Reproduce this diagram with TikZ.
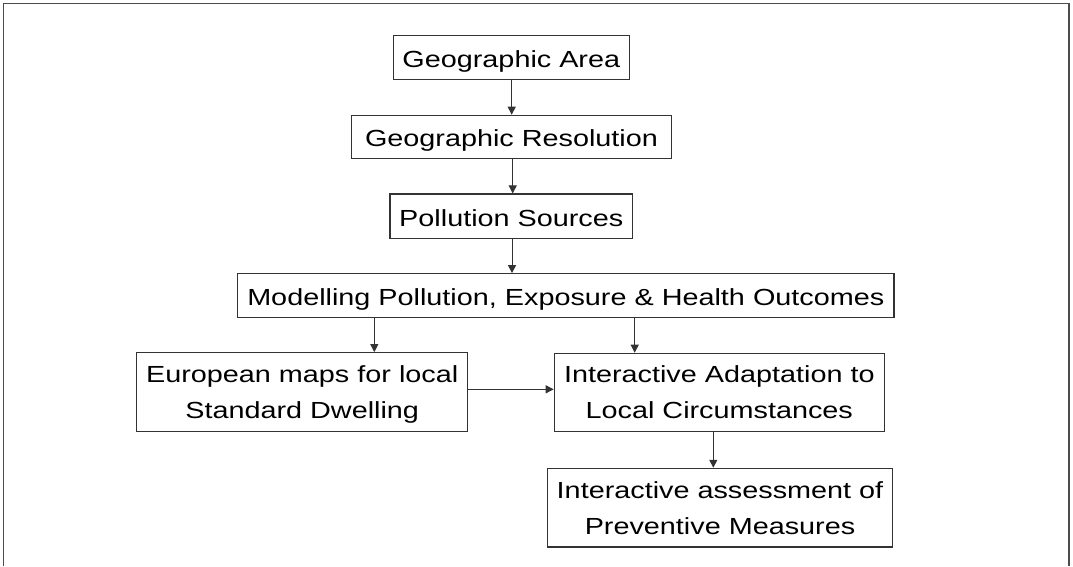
\documentclass[tikz,border=0pt]{standalone}
\usepackage{fontspec}
\setmainfont{Liberation Sans}[FakeStretch=1.236]
\usetikzlibrary{arrows.meta}
\newcommand\myline[1]{\raisebox{0pt}[16.7pt][0pt]{#1}}
\newcommand\mysingle[1]{\raisebox{0pt}[19.7pt][0pt]{#1}}
\begin{document}
\begin{tikzpicture}[x=1pt,y=-1pt,
  box/.style={draw=black!80, line width=1.2pt, inner sep=0pt, align=center,
    font=\fontsize{23.3}{36}\selectfont},
  arr/.style={draw=black!80, line width=1pt, -{Triangle[length=8pt,width=8pt]}},
  frame/.style={draw=black!70, line width=1.6pt}]
\useasboundingbox (0,0) rectangle (1073,566);
\draw[frame] (3.5,566) -- (3.5,3.5) -- (1068.7,3.5) -- (1068.7,566);
\node[box, minimum width=236pt, minimum height=43.6pt] (GA) at (511.3,57.5) {\mysingle{Geographic Area}};
\node[box, minimum width=320.4pt, minimum height=43pt] (GR) at (511.5,136.8) {\mysingle{Geographic Resolution}};
\node[box, minimum width=242.7pt, minimum height=44.3pt] (PS) at (511.3,216.2) {\mysingle{Pollution Sources}};
\node[box, minimum width=656.3pt, minimum height=43.6pt] (MP) at (565.8,295.5) {\mysingle{Modelling Pollution, Exposure \& Health Outcomes}};
\node[box, minimum width=331pt, minimum height=79pt] (EM) at (302.2,392.2) {\myline{European maps for local}\\\myline{Standard Dwelling}};
\node[box, minimum width=330pt, minimum height=78.4pt] (IA) at (719.3,392.5) {\myline{Interactive Adaptation to}\\\myline{Local Circumstances}};
\node[box, minimum width=344.6pt, minimum height=78.7pt] (IP) at (720,507.7) {\myline{Interactive assessment of}\\\myline{Preventive Measures}};
\coordinate (c1) at (511.7,0);
\coordinate (c2) at (512.7,0);
\coordinate (c3) at (512,0);
\coordinate (c4) at (374.3,0);
\coordinate (c5) at (634.7,0);
\coordinate (c6) at (0,389.3);
\coordinate (c7) at (713.3,0);
\draw[arr] (GA.south -| c1) -- (GR.north -| c1);
\draw[arr] (GR.south -| c2) -- (PS.north -| c2);
\draw[arr] (PS.south -| c3) -- (MP.north -| c3);
\draw[arr] (MP.south -| c4) -- (EM.north -| c4);
\draw[arr] (MP.south -| c5) -- (IA.north -| c5);
\draw[arr] (EM.east |- c6) -- (IA.west |- c6);
\draw[arr] (IA.south -| c7) -- (IP.north -| c7);
\end{tikzpicture}
\end{document}
